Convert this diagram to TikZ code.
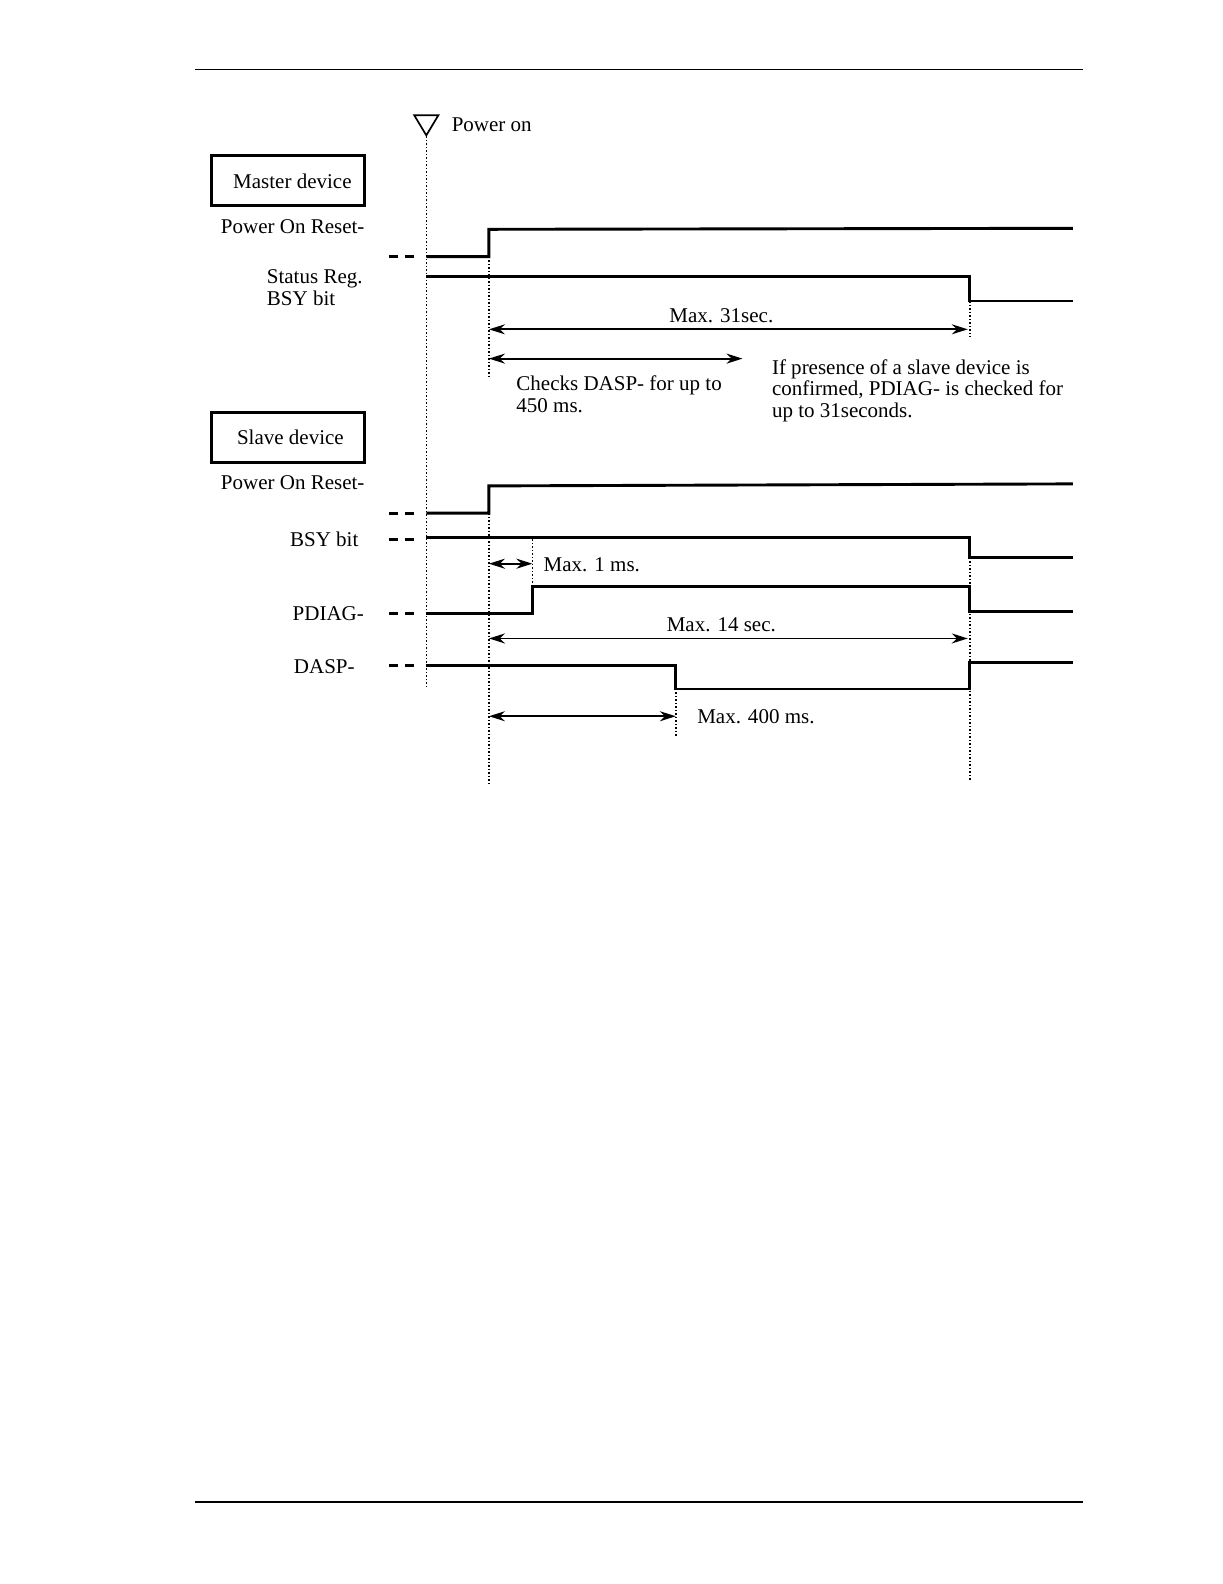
\documentclass[tikz,border=0pt]{standalone}
\usepackage{fontspec}
\setmainfont{Liberation Serif}
\usetikzlibrary{arrows.meta, positioning, calc}

\newcommand{\sigfont}{\fontsize{21}{21.5}\selectfont}

\tikzset{
  devbox/.style={draw, line width=3pt, minimum width=153pt, minimum height=50pt,
    inner sep=0pt, font=\sigfont},
  siglabel/.style={inner sep=0pt, font=\sigfont},
  % base of a multi-line node is the baseline of its last line
  note/.style={anchor=base west, inner sep=0pt, align=left, font=\sigfont},
  wave/.style={line width=2.9pt, line join=miter},
  lead/.style={line width=2.9pt, dash pattern=on 9pt off 7pt},
  guide/.style={line width=1.5pt, dotted},
  dimarrow/.style={{Stealth[length=16pt,width=10pt]}-{Stealth[length=16pt,width=10pt]},
    line width=1.9pt},
  rule/.style={line width=1.5pt},
}

\begin{document}
\begin{tikzpicture}[x=1.01pt, y=-1.01pt]
  \useasboundingbox (0,0) rectangle (1210,1568);

  % --- page rules ---
  \draw[rule] (193,69) -- (1072,69);
  \draw[rule] (193,1487) -- (1072,1487);

  % --- power on marker ---
  \draw[line width=1.7pt, line join=miter] (410,114) -- (434,114) -- (422,134) -- cycle;
  \node[siglabel, anchor=west] (pon) at (447,123) {Power on};
  \draw[guide] (422,135) -- (422,682);

  % --- Master device ---
  \node[devbox] (master) at (285.5,179) {\hspace{8pt}Master device};
  \node[siglabel, anchor=east] (mpor) at (361,224) {Power On Reset-};
  \node[note] (mbsy) at (264,302) {Status Reg.\\BSY bit};

  \draw[lead] (385,254) -- (410,254);
  \draw[wave] (422,254) -- (484,254) -- (484,227) -- (1062,226);
  \draw[wave] (422,274) -- (960,274) -- (960,298) -- (1062,298);

  \draw[guide] (484,254) -- (484,372);
  \draw[guide] (960,298) -- (960,334);

  \coordinate (m31l) at (484,326);
  \coordinate (m31r) at (958,326);
  \draw[dimarrow] (m31l) -- node[above=6pt, xshift=-7pt, siglabel] {Max. 31sec.} (m31r);

  \coordinate (mchkl) at (484,355);
  \coordinate (mchkr) at (735,355);
  \draw[dimarrow] (mchkl) -- (mchkr);

  \node[note] (chk) at (511,408) {Checks DASP- for up to\\450 ms.};
  \node[note] (pres) at (764,413)
    {If presence of a slave device is\\confirmed, PDIAG- is checked for\\up to 31seconds.};

  % --- Slave device ---
  \node[devbox] (slave) at (285.5,433) {\hspace{4pt}Slave device};
  \node[siglabel, anchor=east] (spor) at (361,478) {Power On Reset-};
  \node[siglabel] (sbsy) at (321,534) {BSY bit};
  \node[siglabel] (spdiag) at (325,607) {PDIAG-};
  \node[siglabel] (sdasp) at (321,660) {DASP-};

  \foreach \yy in {508,534,607,659}
    \draw[lead] (385,\yy) -- (410,\yy);

  \draw[wave] (422,508) -- (484,508) -- (484,481) -- (1062,479);
  \draw[wave] (422,532) -- (960,532) -- (960,552) -- (1062,552);
  \draw[wave] (422,607) -- (527,607) -- (527,581) -- (960,581) -- (960,605) -- (1062,605);
  \draw[wave] (422,659) -- (669,659) -- (669,682) -- (960,682) -- (960,656) -- (1062,656);

  \draw[guide] (484,508) -- (484,776);
  \draw[guide] (527,534) -- (527,580);
  \draw[guide] (960,552) -- (960,772);
  \draw[guide] (669,682) -- (669,730);

  \coordinate (s1l) at (484,558);
  \coordinate (s1r) at (527,558);
  \draw[dimarrow] (s1l) -- (s1r);
  \node[siglabel, anchor=west] (s1) at (538,559) {Max. 1 ms.};

  \coordinate (s14l) at (484,632);
  \coordinate (s14r) at (958,632);
  \draw[dimarrow] (s14l) -- node[above=6pt, xshift=-7pt, siglabel] {Max. 14 sec.} (s14r);

  \coordinate (s400l) at (484,709);
  \coordinate (s400r) at (669,709);
  \draw[dimarrow] (s400l) -- (s400r);
  \node[siglabel, anchor=west] (s400) at (690,709) {Max. 400 ms.};

\end{tikzpicture}
\end{document}
